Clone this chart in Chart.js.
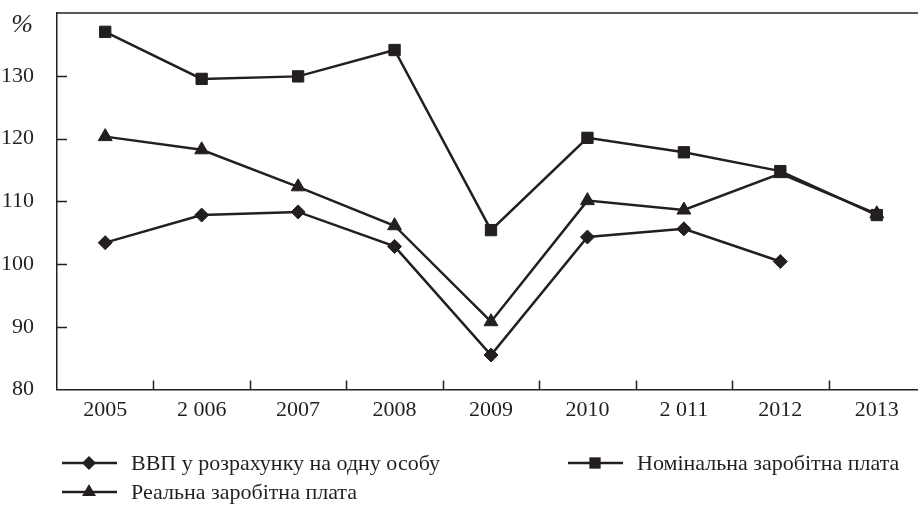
<!DOCTYPE html>
<html>
<head>
<meta charset="utf-8">
<script src="https://cdn.jsdelivr.net/npm/chart.js@4.4.0/dist/chart.umd.min.js"></script>
<style>
  html, body { margin: 0; padding: 0; background: #fff; overflow: hidden; }
  #wrap { width: 918px; height: 506px; overflow: hidden; }
</style>
</head>
<body>
<div id="wrap"><canvas id="chart" width="934" height="506"></canvas></div>
<script>
'use strict';

// Chart data.
const years = ['2005', '2 006', '2007', '2008', '2009', '2010', '2 011', '2012', '2013'];
const gdpPerCapita = [103.4, 107.8, 108.3, 102.8, 85.5, 104.3, 105.6, 100.4, null];
const nominalWage = [137.0, 129.5, 129.9, 134.1, 105.4, 120.1, 117.8, 114.8, 107.8];
const realWage = [120.3, 118.2, 112.3, 106.1, 90.8, 110.1, 108.6, 114.4, 108.0];
const yTicks = [80, 90, 100, 110, 120, 130, 140];
const seriesNames = ['ВВП у розрахунку на одну особу', 'Номінальна заробітна плата', 'Реальна заробітна плата'];

const ink = '#231f20';
const font = '"Liberation Serif", "DejaVu Serif", serif';

Chart.defaults.font.family = font;
Chart.defaults.font.size = 22;
Chart.defaults.color = ink;

function series(label, data, pointStyle, radius) {
  return {
    label: label,
    data: data,
    borderColor: ink,
    backgroundColor: ink,
    borderWidth: 2.5,
    pointStyle: pointStyle,
    pointRadius: radius,
    pointBorderWidth: 1,
    pointBackgroundColor: ink,
    pointBorderColor: ink,
    tension: 0,
    spanGaps: false,
    clip: false,
  };
}

// Marker shapes for the legend samples.
function marker(ctx, style, r, x, y) {
  ctx.beginPath();
  if (style === 'rect') {
    const s = r * Math.SQRT1_2;
    ctx.rect(x - s, y - s, 2 * s, 2 * s);
  } else if (style === 'rectRot') {
    ctx.moveTo(x, y - r);
    ctx.lineTo(x + r, y);
    ctx.lineTo(x, y + r);
    ctx.lineTo(x - r, y);
    ctx.closePath();
  } else {
    const h = r * Math.sqrt(3) / 2;
    ctx.moveTo(x, y - r);
    ctx.lineTo(x + h, y + r / 2);
    ctx.lineTo(x - h, y + r / 2);
    ctx.closePath();
  }
  ctx.fill();
}

// Drop the extra room Chart.js keeps for half labels at the ends of an axis.
function noEdgePadding(scale) {
  scale.paddingTop = 0;
  scale.paddingBottom = 0;
  scale.paddingLeft = 0;
  scale.paddingRight = 0;
}

const frame = {
  id: 'frame',
  afterDraw(chart) {
    const { ctx, chartArea, scales } = chart;
    ctx.save();
    ctx.strokeStyle = ink;
    ctx.fillStyle = ink;
    ctx.lineWidth = 1.5;

    // top edge of the box
    ctx.beginPath();
    ctx.moveTo(chartArea.left, chartArea.top);
    ctx.lineTo(chartArea.right, chartArea.top);
    ctx.stroke();

    // inward ticks on the value axis
    ctx.beginPath();
    yTicks.forEach(v => {
      if (v === yTicks[0] || v === yTicks[yTicks.length - 1]) return;
      const y = Math.round(scales.y.getPixelForValue(v)) + 0.5;
      ctx.moveTo(chartArea.left, y);
      ctx.lineTo(chartArea.left + 10, y);
    });
    // inward ticks between the years
    for (let i = 1; i < years.length; i++) {
      const x = Math.round((scales.x.getPixelForValue(i - 1) + scales.x.getPixelForValue(i)) / 2) + 0.5;
      ctx.moveTo(x, chartArea.bottom);
      ctx.lineTo(x, chartArea.bottom - 9);
    }
    ctx.stroke();

    // unit sign above the value axis
    ctx.font = 'italic 26px ' + font;
    ctx.textAlign = 'center';
    ctx.textBaseline = 'middle';
    ctx.fillText('%', 22, 25);

    // legend in two columns
    const spots = [[62, 463], [568, 463], [62, 492]];
    ctx.font = '22px ' + font;
    ctx.textAlign = 'left';
    chart.data.datasets.forEach((ds, i) => {
      const [x, y] = spots[i];
      ctx.lineWidth = 2.5;
      ctx.beginPath();
      ctx.moveTo(x, y);
      ctx.lineTo(x + 55, y);
      ctx.stroke();
      marker(ctx, ds.pointStyle, ds.pointRadius, x + 27, y);
      ctx.fillText(ds.label, x + 69, y + 1);
    });
    ctx.restore();
  }
};

new Chart(document.getElementById('chart'), {
  type: 'line',
  data: {
    labels: years,
    datasets: [
      series(seriesNames[0], gdpPerCapita, 'rectRot', 7),
      series(seriesNames[1], nominalWage, 'rect', 8),
      series(seriesNames[2], realWage, 'triangle', 8),
    ],
  },
  options: {
    responsive: false,
    animation: false,
    layout: { padding: { top: 13, right: 0, left: 0, bottom: 0 } },
    plugins: { legend: { display: false }, tooltip: { enabled: false } },
    scales: {
      x: {
        offset: true,
        grid: { display: false, drawTicks: false },
        border: { display: true, color: ink, width: 1.5 },
        ticks: { padding: 8, maxRotation: 0, autoSkip: false, color: ink },
        afterFit(scale) { scale.height = 116.5; noEdgePadding(scale); },
      },
      y: {
        min: 80,
        max: 140,
        grid: { display: false, drawTicks: false },
        border: { display: true, color: ink, width: 1.5 },
        ticks: {
          stepSize: 10,
          padding: 23,
          color: ink,
          callback: v => (v === 140 ? '' : v),
        },
        afterFit(scale) { scale.width = 57; noEdgePadding(scale); },
      },
    },
  },
  plugins: [frame],
});
</script>
</body>
</html>
